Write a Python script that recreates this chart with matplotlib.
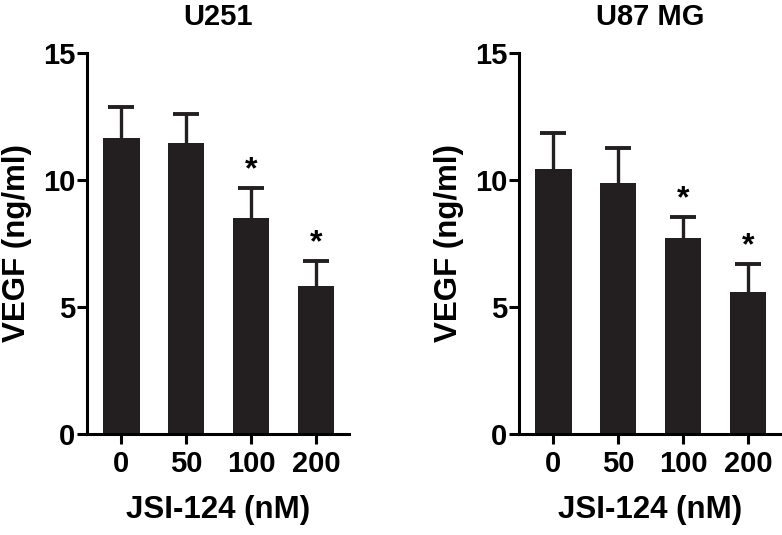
import numpy as np
import matplotlib.pyplot as plt

plt.rcParams['font.family'] = ['Liberation Sans', 'DejaVu Sans']
plt.rcParams['font.weight'] = 'bold'

doses = ["0", "50", "100", "200"]

u251_mean = [11.65, 11.44, 8.49, 5.83]
u251_sd = [1.22, 1.15, 1.18, 0.99]
u251_sig = [False, False, True, True]

u87_mean = [10.42, 9.87, 7.70, 5.60]
u87_sd = [1.45, 1.40, 0.83, 1.08]
u87_sig = [False, False, True, True]

bar_color = "#231f20"


def draw_panel(ax, title, means, sds, sig):
    x = np.arange(len(doses))
    ax.bar(x, means, width=0.56, color=bar_color, zorder=2)
    # symmetric bars, the lower half is hidden behind the bar
    ax.errorbar(x, means, yerr=sds, fmt="none",
                ecolor=bar_color, elinewidth=2.4, capsize=9.5, capthick=2.8, zorder=1)
    for xi, m, s, flag in zip(x, means, sds, sig):
        if flag:
            ax.annotate("*", (xi, m + s), xytext=(0, 2), textcoords="offset points",
                        ha="center", va="bottom", fontsize=23, fontweight="bold")
    ax.set_xlim(-0.53, 3.51)
    ax.set_ylim(0, 15)
    ax.set_yticks([0, 5, 10, 15])
    ax.set_xticks(x)
    ax.set_xticklabels(doses)
    ax.spines["top"].set_visible(False)
    ax.spines["right"].set_visible(False)
    for sp in ["left", "bottom"]:
        ax.spines[sp].set_linewidth(2.2)
    ax.tick_params(axis="both", width=2.2, length=7.5, labelsize=21)
    ax.tick_params(axis="y", pad=1)
    ax.tick_params(axis="x", pad=4)
    ax.set_title(title, fontsize=21, fontweight="bold", pad=20)
    ax.set_xlabel("JSI-124 (nM)", fontsize=22.5, fontweight="bold", labelpad=12)
    ax.set_ylabel("VEGF (ng/ml)", fontsize=22.5, fontweight="bold", labelpad=8)


fig = plt.figure(figsize=(7.82, 5.35), dpi=100)
ax1 = fig.add_axes([0.1113, 0.1888, 0.335, 0.712])
ax2 = fig.add_axes([0.6637, 0.1888, 0.335, 0.712])

draw_panel(ax1, "U251", u251_mean, u251_sd, u251_sig)
draw_panel(ax2, "U87 MG", u87_mean, u87_sd, u87_sig)

fig.savefig("out.png", dpi=100)
